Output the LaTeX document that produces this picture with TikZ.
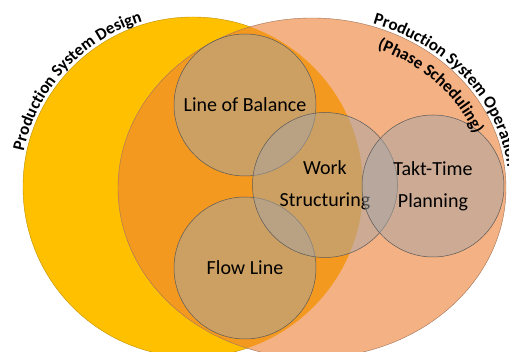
\documentclass[tikz,border=0pt]{standalone}
\usepackage{fontspec}
\setmainfont{Carlito}
\usetikzlibrary{decorations.text}
\definecolor{gold}{HTML}{FFC000}
\definecolor{salmon}{HTML}{F4B183}
\definecolor{overlap}{HTML}{F4991F}
\definecolor{bubblegray}{HTML}{A5A5A5}
\tikzset{
  bubble/.style={circle, fill=bubblegray, fill opacity=0.5, text opacity=1, draw=black!65, line width=0.5pt,
    inner sep=0pt, align=center, font=\fontsize{20}{32}\selectfont},
  arclabel/.style={decorate, decoration={text along path, text color=black, text={#1}}}
}
\begin{document}
\begin{tikzpicture}[x=1pt,y=1pt]
\useasboundingbox (0,0) rectangle (509,352);
\filldraw[fill=gold, draw=gold!75!black, line width=0.4pt] (193,165) circle (170);
\fill[salmon] (312,164) ellipse [x radius=194, y radius=170];
\begin{scope}
  \clip (193,165) circle (170);
  \fill[overlap] (312,164) ellipse [x radius=194, y radius=170];
\end{scope}
\draw[salmon!65!black, line width=0.4pt] (312,164) ellipse [x radius=194, y radius=170];
\foreach \nm/\x/\y/\d/\txt in {lob/245/247/142/{Line of Balance}, flow/245/84/142/{Flow Line},
  work/325/167/145/{Work\\Structuring}, takt/433/166/142/{Takt-Time\\Planning}}{
  \node[bubble, minimum size=\d] (\nm) at (\x,\y) {\txt};
}
\path[arclabel={|\bfseries\fontsize{17}{19}\selectfont|Production System Design}]
  (193,165) ++(168:173) arc[start angle=168, end angle=90, radius=173];
\path[arclabel={|\bfseries\fontsize{17}{19}\selectfont|Production System Operation}]
  (312,164) ++(72:197 and 173) arc[start angle=72, end angle=-20, x radius=197, y radius=173];
\path[arclabel={|\bfseries\fontsize{17}{19}\selectfont|(Phase Scheduling)}]
  (312,164) ++(68:174 and 150) arc[start angle=68, end angle=0, x radius=174, y radius=150];
\end{tikzpicture}
\end{document}
